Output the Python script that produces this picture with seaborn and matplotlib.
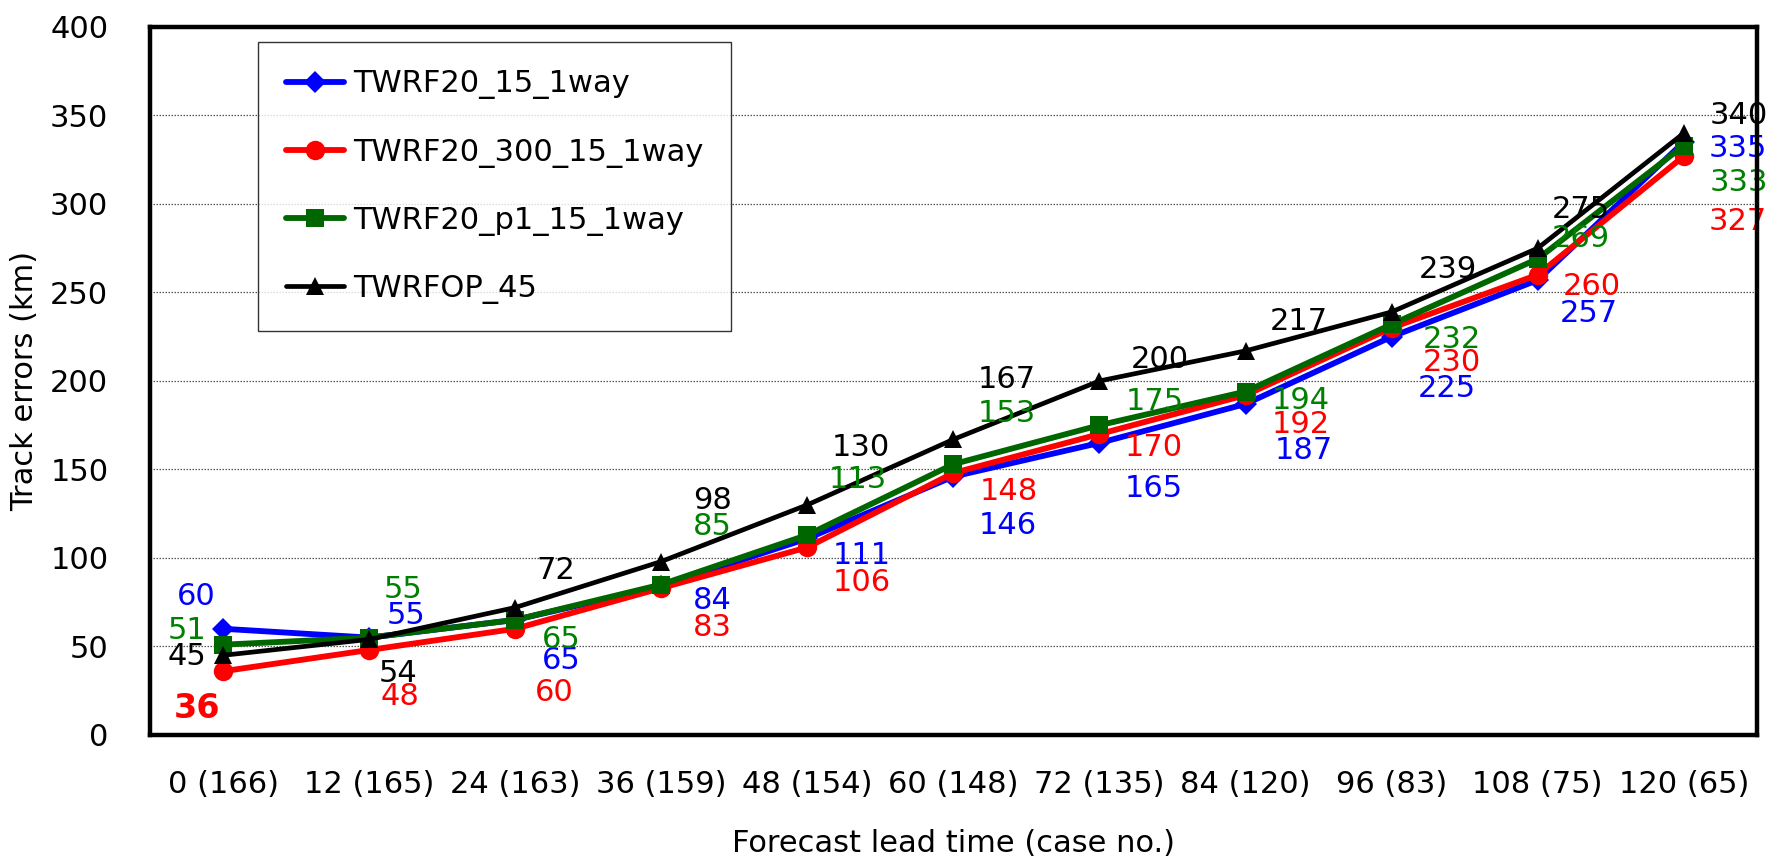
import numpy as np
import pandas as pd
import matplotlib
matplotlib.use("Agg")
import matplotlib.pyplot as plt
import seaborn as sns
from matplotlib.ticker import FixedLocator

# ---------------- data ----------------
categories = ["0 (166)", "12 (165)", "24 (163)", "36 (159)", "48 (154)", "60 (148)",
              "72 (135)", "84 (120)", "96 (83)", "108 (75)", "120 (65)"]
series_names = ["TWRF20_15_1way", "TWRF20_300_15_1way", "TWRF20_p1_15_1way", "TWRFOP_45"]
twrf20_15_1way = [60, 55, 65, 84, 111, 146, 165, 187, 225, 257, 335]
twrf20_300_15_1way = [36, 48, 60, 83, 106, 148, 170, 192, 230, 260, 327]
twrf20_p1_15_1way = [51, 55, 65, 85, 113, 153, 175, 194, 232, 269, 333]
twrfop_45 = [45, 54, 72, 98, 130, 167, 200, 217, 239, 275, 340]
y_ticks = [0, 50, 100, 150, 200, 250, 300, 350, 400]

# ---------------- styles ----------------
colors = {"TWRF20_15_1way": "#0000ff", "TWRF20_300_15_1way": "#ff0000",
          "TWRF20_p1_15_1way": "#006600", "TWRFOP_45": "#000000"}
text_colors = {"TWRF20_15_1way": "#0000ff", "TWRF20_300_15_1way": "#ff0000",
               "TWRF20_p1_15_1way": "#008000", "TWRFOP_45": "#000000"}
markers = {"TWRF20_15_1way": "D", "TWRF20_300_15_1way": "o",
           "TWRF20_p1_15_1way": "s", "TWRFOP_45": "^"}
msizes = {"TWRF20_15_1way": 11, "TWRF20_300_15_1way": 14,
          "TWRF20_p1_15_1way": 13, "TWRFOP_45": 13}
lwidths = {"TWRF20_15_1way": 4.2, "TWRF20_300_15_1way": 4.2,
           "TWRF20_p1_15_1way": 4.2, "TWRFOP_45": 3.4}

# label offsets (pixels of reference preview, dx right, dy up)
label_offsets = {
    "TWRF20_15_1way": [(-24, 29), (33, 20), (41, -36), (45, -13), (48, -15), (48, -43),
                       (48, -40), (52, -41), (49, -46), (45, -30), (48, -6)],
    "TWRF20_300_15_1way": [(-23, -33), (27, -41), (35, -56), (45, -35), (48, -31), (49, -16),
                           (48, -12), (49, -26), (53, -31), (48, -10), (48, -58)],
    "TWRF20_p1_15_1way": [(-32, 13), (30, 43), (41, -17), (45, 51), (45, 49), (47, 45),
                          (49, 21), (49, -8), (53, -13), (38, 18), (49, -33)],
    "TWRFOP_45": [(-32, -1), (26, -30), (36, 33), (45, 54), (47, 51), (47, 53),
                  (53, 19), (47, 26), (50, 38), (38, 34), (49, 16)],
}

values = {"TWRF20_15_1way": twrf20_15_1way, "TWRF20_300_15_1way": twrf20_300_15_1way,
          "TWRF20_p1_15_1way": twrf20_p1_15_1way, "TWRFOP_45": twrfop_45}

rows = []
for name in series_names:
    for i, cat in enumerate(categories):
        rows.append({"pos": i, "category": cat, "series": name, "value": values[name][i]})
df = pd.DataFrame(rows)

sns.set_theme(style="white")
plt.rcParams['font.family'] = ['DejaVu Sans']
plt.rcParams.update({"text.color": "black", "axes.labelcolor": "black",
                     "xtick.color": "black", "ytick.color": "black"})

FS = 22
fig = plt.figure(figsize=(17.71, 8.56), dpi=100)
ax = fig.add_axes([0.0847, 0.1414, 0.9073, 0.8271])

for name in series_names:
    sub = df[df["series"] == name]
    sns.lineplot(data=sub, x="pos", y="value", ax=ax, color=colors[name],
                 marker=markers[name], markersize=msizes[name], markeredgewidth=0,
                 linewidth=lwidths[name], label=name, zorder=2, sort=False)

# data labels
scale = 1771 / 1568
for name in series_names:
    for i, v in enumerate(values[name]):
        dx, dy = label_offsets[name][i]
        bold = (name == "TWRF20_300_15_1way" and i == 0)
        ax.annotate(str(v), xy=(i, v), xytext=(dx * scale, dy * scale),
                    textcoords="offset pixels", ha="center", va="center",
                    fontsize=FS + 2 if bold else FS,
                    fontweight="bold" if bold else "normal",
                    color=text_colors[name], zorder=2, annotation_clip=False)

ax.set_xlim(-0.5, len(categories) - 0.5)
ax.set_ylim(0, 400)
ax.yaxis.set_major_locator(FixedLocator(y_ticks))
ax.set_yticklabels([str(t) for t in y_ticks], fontsize=FS)
ax.xaxis.set_major_locator(FixedLocator(list(range(len(categories)))))
ax.set_xticklabels(categories, fontsize=FS)
ax.xaxis.set_minor_locator(FixedLocator([i + 0.5 for i in range(len(categories) - 1)]))
ax.tick_params(axis="x", which="major", length=0, pad=25)
ax.tick_params(axis="x", which="minor", direction="in", length=11, width=1.2, color="black")
ax.tick_params(axis="y", which="major", length=0, pad=30)

ax.grid(False)
for yv in y_ticks[1:-1]:
    ax.axhline(yv, color="#555555", lw=0.9, ls=(0, (1.2, 1.2)), zorder=0.5)

for sp in ax.spines.values():
    sp.set_visible(True)
    sp.set_color("black")
    sp.set_linewidth(3.2)
    sp.set_zorder(3)

ax.set_xlabel("Forecast lead time (case no.)", fontsize=FS, labelpad=22)
ax.set_ylabel("Track errors (km)", fontsize=FS, labelpad=8)

leg = ax.legend(loc="upper left", bbox_to_anchor=(0.0675, 0.979), borderaxespad=0,
                fontsize=FS, frameon=True, fancybox=False, handlelength=1.9,
                handletextpad=0.3, labelspacing=1.25, borderpad=0.9)
leg.get_frame().set_edgecolor("black")
leg.get_frame().set_linewidth(1.0)
leg.set_zorder(1)

fig.savefig("out.png", dpi=100, facecolor="white")
